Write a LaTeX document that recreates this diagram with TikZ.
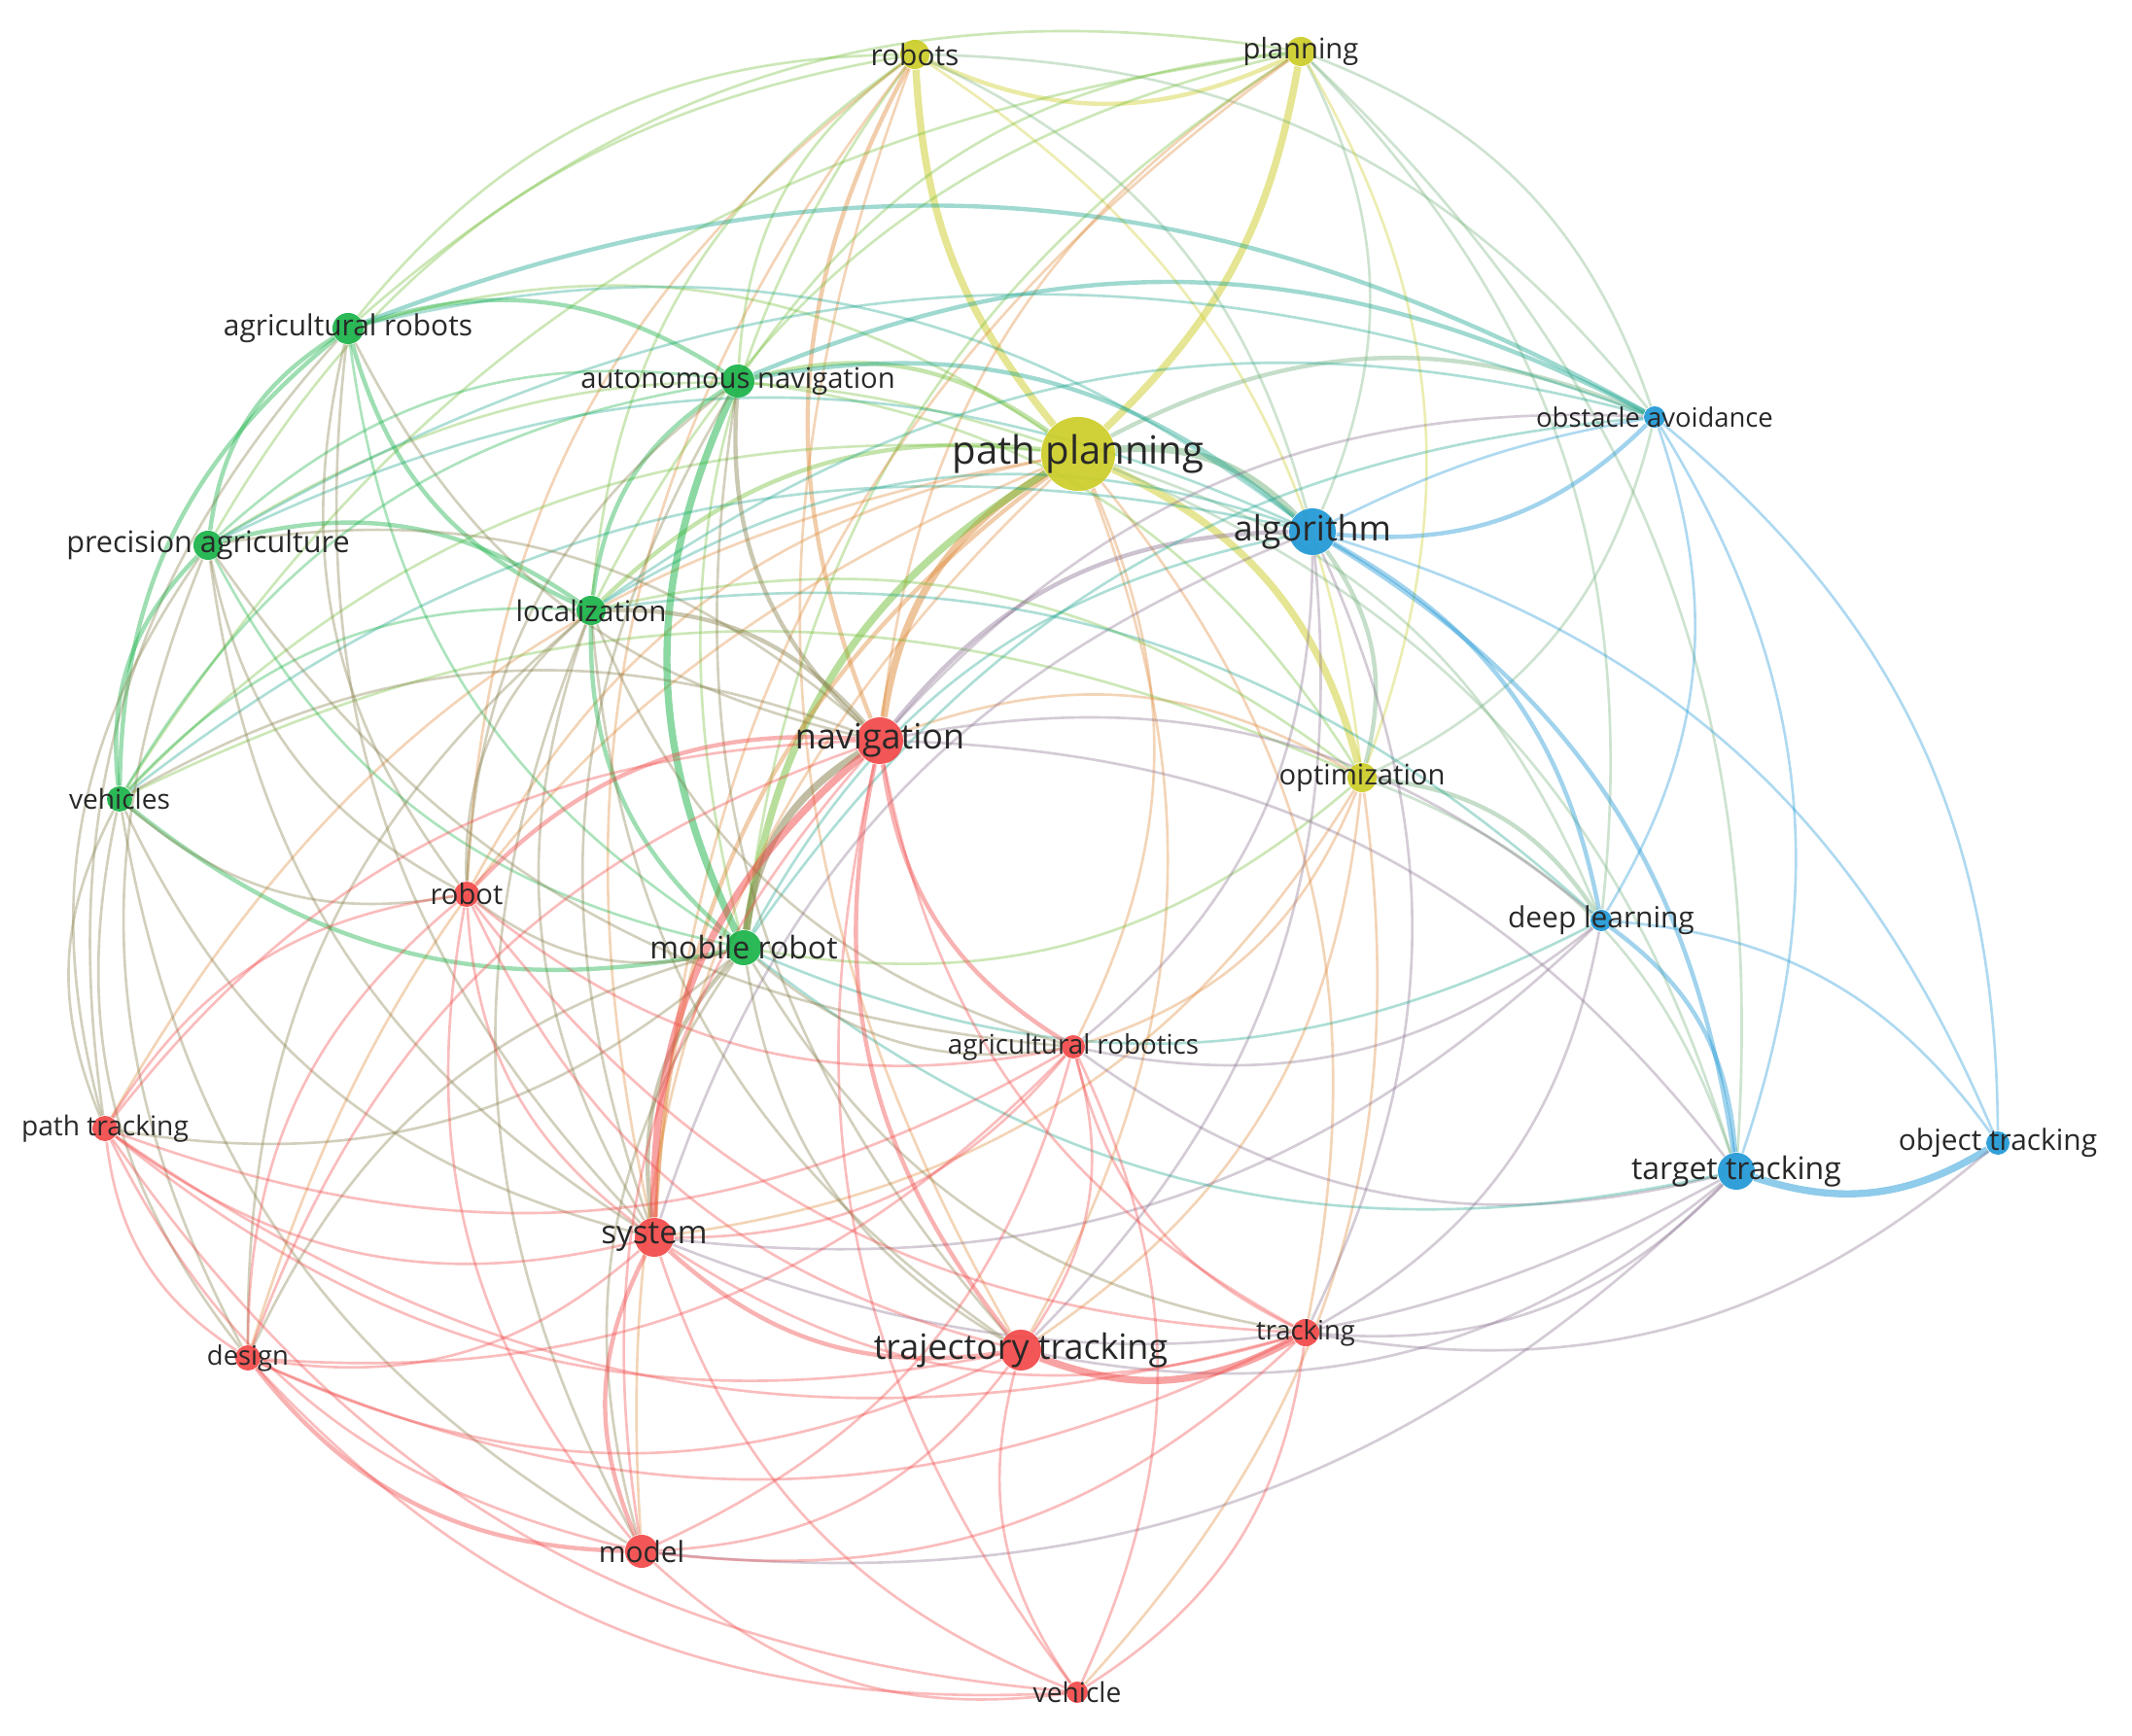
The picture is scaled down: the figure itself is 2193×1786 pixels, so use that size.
\documentclass[tikz,border=0pt]{standalone}
\usepackage{fontspec}
\setmainfont{Open Sans}
\pgfdeclarelayer{bg}
\pgfsetlayers{bg,main}
\definecolor{Yc}{RGB}{205,205,40}
\definecolor{Gc}{RGB}{25,178,72}
\definecolor{Rc}{RGB}{242,72,72}
\definecolor{Bc}{RGB}{32,152,214}
\definecolor{txt}{RGB}{40,40,40}
\tikzset{
  dot/.style={circle, inner sep=0pt, draw=none, opacity=0.92},
  lab/.style={text=txt, inner sep=0pt},
  edgest/.style={line width=0.75pt, opacity=0.36},
  med/.style={line width=1.25pt, opacity=0.42},
  thk/.style={line width=2.1pt, opacity=0.5},
}
% name, x, y, colour, radius(px), font size(pt), label
\newcommand\Nd[7]{%
  \expandafter\def\csname X#1\endcsname{#2}%
  \expandafter\def\csname Y#1\endcsname{#3}%
  \colorlet{c#1}{#4}%
  \node[dot, fill=#4, minimum size={#5*0.02cm}] (#1) at (#2,#3) {};
  \node[lab, font=\fontsize{#6}{#6}\selectfont] (#1L) at (#2,#3) {#7};
}
\newcommand\E[3][]{%
  \pgfmathsetmacro\crs{((\csname X#2\endcsname-1080)/100)*((\csname Y#3\endcsname-880)/100)-((\csname Y#2\endcsname-880)/100)*((\csname X#3\endcsname-1080)/100)}%
  \pgfmathsetmacro\bnd{\crs>0?25:-25}%
  \draw[edgest, draw=c#2!50!c#3, #1] (#2) to[bend left=\bnd] (#3);
}
\begin{document}
\begin{tikzpicture}[x=0.01cm, y=-0.01cm]
\begin{pgfonlayer}{bg}
\fill[white] (0,0) rectangle (2193,1786);
\end{pgfonlayer}
\useasboundingbox (0,0) rectangle (2193,1786);
% nodes
\Nd{rs}{941}{56}{Yc}{15}{8.5}{robots}
\Nd{pl}{1338}{53}{Yc}{15}{8.3}{planning}
\Nd{ar}{358}{338}{Gc}{16}{8.5}{agricultural robots}
\Nd{an}{759}{392}{Gc}{17}{8.3}{autonomous navigation}
\Nd{pp}{1109}{467}{Yc}{38}{11.4}{path planning}
\Nd{oa}{1702}{429}{Bc}{11}{7.8}{obstacle avoidance}
\Nd{al}{1350}{547}{Bc}{24}{10.2}{algorithm}
\Nd{pa}{214}{561}{Gc}{15}{8.7}{precision agriculture}
\Nd{lo}{608}{628}{Gc}{15}{8.4}{localization}
\Nd{nv}{905}{762}{Rc}{24}{10.2}{navigation}
\Nd{op}{1401}{800}{Yc}{15}{8.3}{optimization}
\Nd{vs}{123}{822}{Gc}{13}{8.0}{vehicles}
\Nd{rb}{480}{920}{Rc}{13}{8.3}{robot}
\Nd{mr}{765}{975}{Gc}{18}{9.1}{mobile robot}
\Nd{dl}{1647}{947}{Bc}{11}{8.5}{deep learning}
\Nd{ac}{1104}{1077}{Rc}{12}{7.9}{agricultural robotics}
\Nd{pt}{108}{1161}{Rc}{13}{8.0}{path tracking}
\Nd{tt}{1786}{1205}{Bc}{19}{9.1}{target tracking}
\Nd{ot}{2055}{1176}{Bc}{12}{8.5}{object tracking}
\Nd{sy}{673}{1273}{Rc}{20}{9.4}{system}
\Nd{tr}{1050}{1389}{Rc}{21}{10.2}{trajectory tracking}
\Nd{tk}{1343}{1371}{Rc}{14}{7.8}{tracking}
\Nd{de}{255}{1397}{Rc}{13}{7.8}{design}
\Nd{mo}{660}{1596}{Rc}{17}{8.5}{model}
\Nd{ve}{1108}{1741}{Rc}{11}{8.0}{vehicle}
\begin{pgfonlayer}{bg}
% yellow
\draw[med, draw=Yc] (rs) to[bend right=25] (pl);
\draw[thk, draw=Yc] (rs) to[bend right=18] (pp);
\draw[thk, draw=Yc] (pl) to[bend left=18] (pp);
\E{rs}{ar} \E{rs}{an} \E{rs}{lo} \E[med]{rs}{nv} \E{rs}{mr}
\E{rs}{sy} \E{rs}{al} \E{rs}{op} \E{rs}{pa} \E{rs}{oa} \E{rs}{tr} \E{rs}{rb}
\E{pl}{ar} \E{pl}{oa} \E{pl}{al} \E{pl}{op} \E{pl}{nv} \E{pl}{mr}
\E{pl}{an} \E{pl}{lo} \E{pl}{dl} \E{pl}{sy} \E{pl}{tt} \E{pl}{vs}
\E[thk]{pp}{nv} \E[thk]{pp}{mr} \E[thk]{pp}{al} \E[med]{pp}{oa} \E[thk]{pp}{op}
\E[med]{pp}{an} \E{pp}{ar} \E[med]{pp}{lo} \E{pp}{pa} \E{pp}{vs} \E[med]{pp}{sy}
\E{pp}{tr} \E{pp}{rb} \E{pp}{dl} \E{pp}{tt} \E{pp}{tk} \E{pp}{ac} \E{pp}{mo}
\E{pp}{de} \E{pp}{pt}
\E[med]{op}{al} \E{op}{nv} \E[med]{op}{dl} \E{op}{tt} \E{op}{ve} \E{op}{sy}
\E{op}{mr} \E{op}{oa} \E{op}{ac} \E{op}{tr} \E{op}{lo} \E{op}{vs} \E{op}{an}
% blue
\draw[med, draw=Bc] (al) to[bend right=25] (oa);
\draw[edgest, draw=Bc] (al) to[bend left=8] (oa);
\E[med]{al}{dl} \E[med]{al}{tt} \E{al}{ot} \E[med]{al}{nv}
\E{al}{mr} \E{al}{ar} \E[med]{al}{an} \E{al}{pa} \E{al}{lo} \E{al}{sy} \E{al}{tr}
\E{al}{tk} \E{al}{ac} \E{al}{vs}
\E[med]{oa}{ar} \E[med]{oa}{an} \E{oa}{lo} \E{oa}{nv} \E{oa}{dl} \E{oa}{tt}
\E{oa}{ot} \E{oa}{mr} \E{oa}{pa}
\E[med]{dl}{tt} \E{dl}{ot} \E{dl}{ac} \E{dl}{nv} \E{dl}{mr} \E{dl}{sy} \E{dl}{lo}
\E{dl}{tk}
\E[thk]{tt}{ot} \E{tt}{tk} \E{tt}{tr} \E{tt}{sy} \E{tt}{ac} \E{tt}{mr} \E{tt}{nv}
\E{tt}{mo} \E{ot}{tk}
% green
\E[med]{ar}{pa} \E[med]{ar}{vs} \E[med]{ar}{lo} \E[med]{ar}{an} \E{ar}{mr}
\E{ar}{nv} \E{ar}{sy} \E{ar}{rb} \E{ar}{pt}
\E[med]{pa}{vs} \E[med]{pa}{lo} \E{pa}{an} \E{pa}{mr} \E{pa}{nv} \E{pa}{rb}
\E{pa}{sy} \E{pa}{de} \E{pa}{pt} \E{pa}{ac}
\E[med]{an}{lo} \E[thk]{an}{mr} \E[med]{an}{nv} \E{an}{vs} \E{an}{sy} \E{an}{rb}
\E{an}{tr}
\E[med]{lo}{mr} \E[med]{lo}{nv} \E{lo}{vs} \E{lo}{rb} \E{lo}{sy} \E{lo}{tr}
\E{lo}{ac} \E{lo}{de} \E{lo}{mo}
\E[med]{vs}{mr} \E{vs}{nv} \E{vs}{pt} \E{vs}{de} \E{vs}{sy} \E{vs}{rb} \E{vs}{mo}
\E[thk]{mr}{nv} \E[med]{mr}{sy} \E{mr}{rb} \E{mr}{tr} \E{mr}{ac} \E{mr}{de}
\E{mr}{pt} \E{mr}{mo} \E{mr}{tk}
% red
\E[thk]{nv}{sy} \E[med]{nv}{tr} \E[med]{nv}{rb} \E[med]{nv}{ac} \E{nv}{de}
\E{nv}{pt} \E{nv}{mo} \E{nv}{tk} \E{nv}{ve}
\E{rb}{sy} \E{rb}{tr} \E{rb}{de} \E{rb}{pt} \E{rb}{mo} \E{rb}{tk} \E{rb}{ac}
\E[med]{sy}{tr} \E{sy}{de} \E[med]{sy}{mo} \E{sy}{pt} \E{sy}{tk} \E{sy}{ac}
\E{sy}{ve}
\E{tr}{mo} \E{tr}{de} \E{tr}{pt} \E[thk]{tr}{tk} \E{tr}{ac} \E{tr}{ve}
\E{ac}{de} \E{ac}{pt} \E{ac}{tk} \E{ac}{ve} \E{ac}{mo}
\E{tk}{de} \E{tk}{mo} \E{tk}{pt} \E{tk}{ve}
\E{pt}{de} \E{pt}{mo} \E{pt}{ve} \E[med]{de}{mo} \E{de}{ve} \E{mo}{ve}
\end{pgfonlayer}
\end{tikzpicture}
\end{document}
